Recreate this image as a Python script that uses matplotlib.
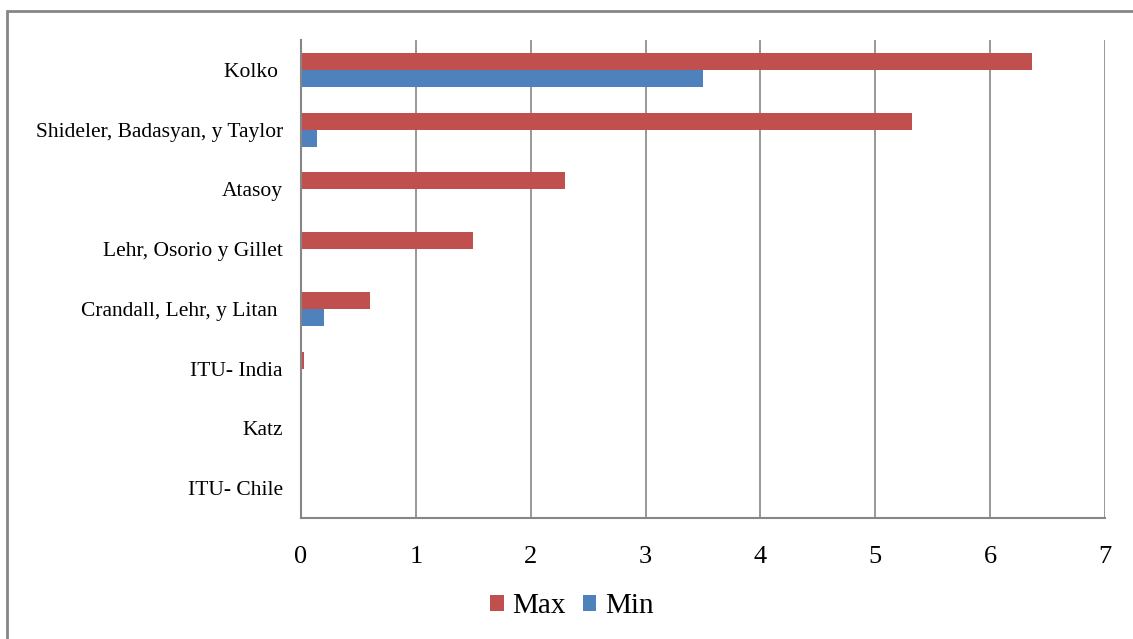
import matplotlib.pyplot as plt
from matplotlib.patches import Rectangle
import numpy as np

# Estudios y valores (máximo / mínimo)
estudios = ['Kolko ', 'Shideler, Badasyan, y Taylor', 'Atasoy', 'Lehr, Osorio y Gillet',
            'Crandall, Lehr, y Litan ', 'ITU- India', 'Katz', 'ITU- Chile']
valores_max = [6.36, 5.32, 2.30, 1.50, 0.60, 0.03, 0.0, 0.0]
valores_min = [3.50, 0.14, 0.0, 0.0, 0.20, 0.0, 0.0, 0.0]

rojo = '#C0504D'
azul = '#4F81BD'
gris = '#868686'

plt.rcParams['font.family'] = ['Liberation Serif', 'DejaVu Serif']

fig = plt.figure(figsize=(11.33, 6.39), dpi=100)
ax = fig.add_axes([0.2657, 0.1894, 0.7096, 0.748])

y = np.arange(len(estudios))
alto = 0.285
ax.barh(y - alto / 2, valores_max, height=alto, color=rojo, label='Max')
ax.barh(y + alto / 2, valores_min, height=alto, color=azul, label='Min')

ax.set_ylim(len(estudios) - 0.5, -0.5)
ax.set_xlim(0, 7)
ax.set_xticks(range(8))
ax.set_yticks(y)
ax.set_yticklabels(estudios, fontsize=15.5)
ax.tick_params(axis='x', length=0, pad=20, labelsize=19)
ax.tick_params(axis='y', length=0, pad=13)

ax.grid(axis='x', color=gris, linewidth=1.2)
ax.set_axisbelow(True)
for lado in ['top', 'right']:
    ax.spines[lado].set_visible(False)
for lado in ['left', 'bottom']:
    ax.spines[lado].set_color(gris)
    ax.spines[lado].set_linewidth(1.5)

ax.legend(loc='center', bbox_to_anchor=(0.505, 0.051), bbox_transform=fig.transFigure,
          ncol=2, frameon=False, fontsize=21, handlelength=0.45, handleheight=0.45,
          handletextpad=0.3, columnspacing=0.6)

# Marco exterior del gráfico
fig.patches.append(Rectangle((7 / 1133, -0.1), 1.2, 1 - 11 / 639 + 0.1,
                             transform=fig.transFigure, fill=False,
                             edgecolor=gris, linewidth=2))

fig.savefig('out.png', dpi=100)
